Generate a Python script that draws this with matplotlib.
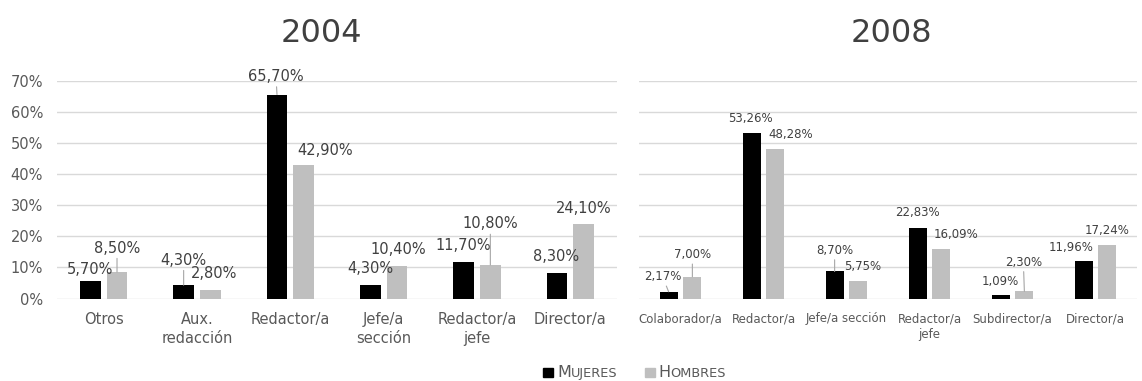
import matplotlib.pyplot as plt
from matplotlib.patches import Rectangle

# Datos (porcentaje de profesionales por cargo)
cats_2004 = ['Otros', 'Aux.\nredacción', 'Redactor/a', 'Jefe/a\nsección', 'Redactor/a\njefe', 'Director/a']
mujeres_2004 = [5.70, 4.30, 65.70, 4.30, 11.70, 8.30]
hombres_2004 = [8.50, 2.80, 42.90, 10.40, 10.80, 24.10]

cats_2008 = ['Colaborador/a', 'Redactor/a', 'Jefe/a sección', 'Redactor/a\njefe', 'Subdirector/a', 'Director/a']
mujeres_2008 = [2.17, 53.26, 8.70, 22.83, 1.09, 11.96]
hombres_2008 = [7.00, 48.28, 5.75, 16.09, 2.30, 17.24]

y_ticks = [0, 10, 20, 30, 40, 50, 60, 70]

# desplazamiento de etiquetas (px) y si llevan línea guía
off_m04 = [(0, 11), (0, 25), (-1, 18), (0, 17), (0, 17), (-1, 16)]
off_h04 = [(0, 24), (4, 16), (21, 15), (1, 17), (0, 41), (0, 15)]
lead_m04 = [False, True, True, False, False, False]
lead_h04 = [True, False, False, False, True, False]
off_m08 = [(-6, 15), (-1, 15), (0, 21), (0, 15), (0, 14), (-13, 14)]
off_h08 = [(0, 22), (15, 14), (4, 14), (15, 14), (-1, 29), (0, 14)]
lead_m08 = [True, False, True, False, False, False]
lead_h08 = [True, False, False, False, True, False]

NEGRO = '#000000'
GRIS = '#bfbfbf'
TXT = '#595959'
ETQ = '#404040'

plt.rcParams['font.family'] = ['DejaVu Sans']

fig = plt.figure(figsize=(11.42, 3.81), dpi=100)
ax1 = fig.add_axes([57 / 1142, 0.2165, 560 / 1142, 0.5705])
ax2 = fig.add_axes([639 / 1142, 0.2165, 498 / 1142, 0.5705])


def fmt(v):
    return f"{v:.2f}".replace('.', ',') + '%'


def panel(ax, cats, muj, hom, off_m, off_h, lead_m, lead_h, fs_lbl, fs_tick):
    x = list(range(len(cats)))
    w = 0.22
    d = 0.143
    bm = ax.bar([i - d for i in x], muj, width=w, color=NEGRO, zorder=3)
    bh = ax.bar([i + d for i in x], hom, width=w, color=GRIS, zorder=3)
    for bars, vals, offs, leads in ((bm, muj, off_m, lead_m), (bh, hom, off_h, lead_h)):
        for b, v, (dx, dy), ld in zip(bars, vals, offs, leads):
            xc = b.get_x() + b.get_width() / 2
            kw = {}
            if ld:
                kw['arrowprops'] = dict(arrowstyle='-', color='#a6a6a6', lw=0.8,
                                        shrinkA=0, shrinkB=0)
            ax.annotate(fmt(v), xy=(xc, v), xytext=(dx, dy), textcoords='offset pixels',
                        ha='center', va='center', fontsize=fs_lbl, color=ETQ, **kw)
    ax.set_xlim(-0.5, len(cats) - 0.5)
    ax.set_ylim(0, 70)
    ax.set_yticks(y_ticks)
    ax.set_xticks(x)
    ax.set_xticklabels(cats, fontsize=fs_tick, color=TXT, linespacing=1.3)
    ax.tick_params(axis='both', length=0)
    ax.tick_params(axis='x', pad=10)
    ax.grid(axis='y', color='#d9d9d9', lw=1, zorder=0)
    for s in ax.spines.values():
        s.set_visible(False)


panel(ax1, cats_2004, mujeres_2004, hombres_2004, off_m04, off_h04, lead_m04, lead_h04, 10.5, 10.5)
panel(ax2, cats_2008, mujeres_2008, hombres_2008, off_m08, off_h08, lead_m08, lead_h08, 8.5, 8.5)

ax1.set_yticklabels([f"{t}%" for t in y_ticks], fontsize=10.5, color=TXT)
ax1.tick_params(axis='y', pad=10)
ax2.set_yticklabels([])

fig.text(321 / 1142, 1 - 34 / 381, '2004', fontsize=23, color=ETQ, ha='center', va='center')
fig.text(891 / 1142, 1 - 34 / 381, '2008', fontsize=23, color=ETQ, ha='center', va='center')

# Leyenda en versalitas
renderer = fig.canvas.get_renderer()
W, H = 1142, 381


def versalitas(x_px, palabra, color):
    base = 1 - 377 / H
    t = fig.text(x_px / W, base, palabra[0], fontsize=11.5, color=color, va='baseline')
    bb = t.get_window_extent(renderer)
    fig.text(bb.x1 / W, base, palabra[1:].upper(), fontsize=9.3, color=color, va='baseline')


for x_sq, col, nombre, x_txt in ((543, NEGRO, 'Mujeres', 557), (645, GRIS, 'Hombres', 658)):
    fig.add_artist(Rectangle((x_sq / W, 1 - 377 / H), 10 / W, 9 / H,
                             transform=fig.transFigure, color=col))
    versalitas(x_txt, nombre, TXT)

fig.savefig('out.png', dpi=100)
